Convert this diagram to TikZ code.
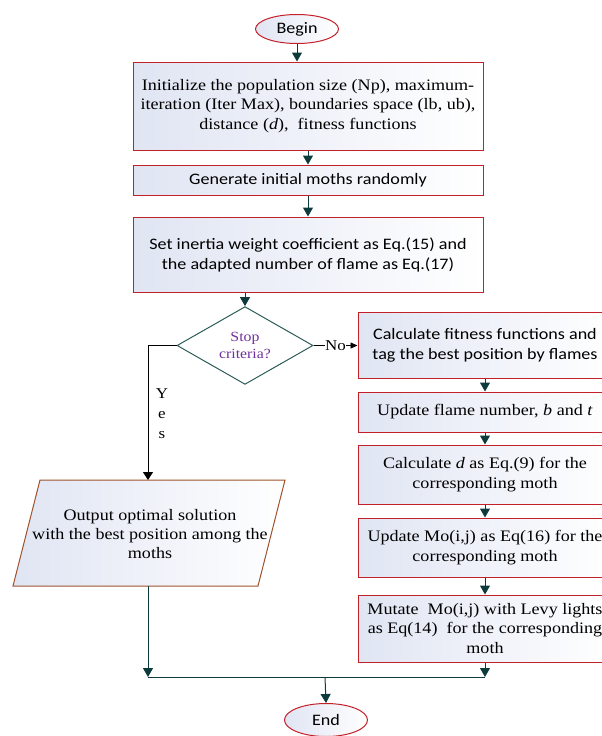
\documentclass[tikz,border=0pt]{standalone}
\usepackage{fontspec}
\setmainfont{Liberation Serif}[FakeStretch=1.13]
\newfontfamily\calfont{Carlito}[FakeStretch=1.13]
\usetikzlibrary{shapes.geometric,arrows.meta}
\definecolor{boxred}{HTML}{C4202A}
\definecolor{arr}{HTML}{0D3B3B}
\definecolor{gradblue}{HTML}{E0E5F3}
\definecolor{brownb}{HTML}{A0522D}
\definecolor{diab}{HTML}{2F5F5A}
\definecolor{purp}{HTML}{7030A0}
\tikzset{
  procbox/.style={draw=boxred, line width=1pt, left color=gradblue, right color=white, rectangle, inner sep=0pt, align=center, font=\fontsize{16}{19.5}\selectfont},
  rbox/.style={procbox, minimum width=254pt, font=\fontsize{16}{19.5}\selectfont},
  calbox/.style={procbox, font=\calfont\fontsize{16}{20}\selectfont},
  term/.style={draw=boxred, line width=1pt, left color=gradblue, right color=white, ellipse, inner sep=0pt, minimum width=83pt, minimum height=29pt, font=\calfont\fontsize{16}{19}\selectfont},
  flow/.style={draw=arr, line width=1pt, -{Triangle[width=10pt,length=9pt]}},
  plain/.style={draw=arr, line width=1pt},
}
\begin{document}
\begin{tikzpicture}[x=1pt,y=-1pt]
\useasboundingbox (0,0) rectangle (602,736);
% nodes
\node[term] (begin) at (297,29) {Begin};
\node[procbox, minimum width=350pt, minimum height=88pt] (init) at (308,106)
  {Initialize the population size (Np), maximum-\\iteration (Iter Max), boundaries space (lb, ub),\\distance (\textit{d}),\ \ fitness functions};
\node[calbox, minimum width=350pt, minimum height=30pt] (gen) at (308,180) {Generate initial moths randomly};
\node[calbox, minimum width=350pt, minimum height=75pt] (set) at (308,254.5)
  {Set inertia weight coefficient as Eq.(15) and\\the adapted number of flame as Eq.(17)};
\node[diamond, draw=diab, line width=1pt, fill=white, inner sep=0pt, minimum width=136pt, minimum height=67pt, align=center, text=purp, font=\fontsize{14}{16.5}\selectfont] (dec) at (245,345.5) {Stop\\criteria?};
\node[calbox, minimum width=254pt, minimum height=66pt] (r1) at (485,345.5)
  {Calculate fitness functions and\\tag the best position by flames};
\node[rbox, minimum height=40pt] (r2) at (485,412)
  {Update flame number, \textit{b} and \textit{t}};
\node[rbox, minimum height=59pt] (r3) at (485,474.5)
  {Calculate \textit{d} as Eq.(9) for the\\corresponding moth};
\node[rbox, minimum height=59pt] (r4) at (485,547.5)
  {Update Mo(i,j) as Eq(16) for the\\corresponding moth};
\node[rbox, minimum height=67pt] (r5) at (485,628.5)
  {Mutate\ \ Mo(i,j) with Levy lights\\as Eq(14)\ \ for the corresponding\\moth};
% output parallelogram
\draw[draw=brownb, line width=1pt, left color=gradblue, right color=white] (40,480) -- (285,480) -- (258,586) -- (13,586) -- cycle;
\node[align=center, inner sep=0pt, font=\fontsize{16}{19}\selectfont] (out) at (150,534)
  {Output optimal solution\\with the best position among the\\moths};
\coordinate (outtop) at (148,480);
\coordinate (outbot) at (148,586);
\node[term, minimum height=33pt] (end) at (326,720) {End};
% connector points
\coordinate (lcorner) at (148,345.5);
\coordinate (jl) at (148,677);
\coordinate (jr) at (485,677);
\coordinate (jm) at (325,677);
% connectors
\draw[flow] (begin.south) -- (begin.south |- init.north);
\draw[flow] (init.south) -- (gen.north);
\draw[flow] (gen.south) -- (set.north);
\draw[flow] (dec.north |- set.south) -- (dec.north);
\draw[draw=black, line width=0.8pt, -{Triangle[width=6pt,length=7pt]}] (dec.east) -- node[pos=0.5, fill=white, inner sep=0.5pt, font=\fontsize{15}{18}\selectfont] {No} (r1.west);
\draw[flow] (r1.south) -- (r2.north);
\draw[flow] (r2.south) -- (r3.north);
\draw[flow] (r3.south) -- (r4.north);
\draw[flow] (r4.south) -- (r5.north);
\draw[flow] (r5.south) -- (jr);
\draw[line width=1pt, draw=black, -{Triangle[width=10pt,length=8pt]}] (dec.west) -- (lcorner) -- (outtop);
\node[align=center, inner sep=0pt, font=\fontsize{15}{20}\selectfont] (yes) at (162,414) {Y\\e\\s};
\draw[flow] (outbot) -- (jl);
\draw[plain] (jl) -- (jr);
\draw[flow] (jm) -- (end.north);
\end{tikzpicture}
\end{document}
